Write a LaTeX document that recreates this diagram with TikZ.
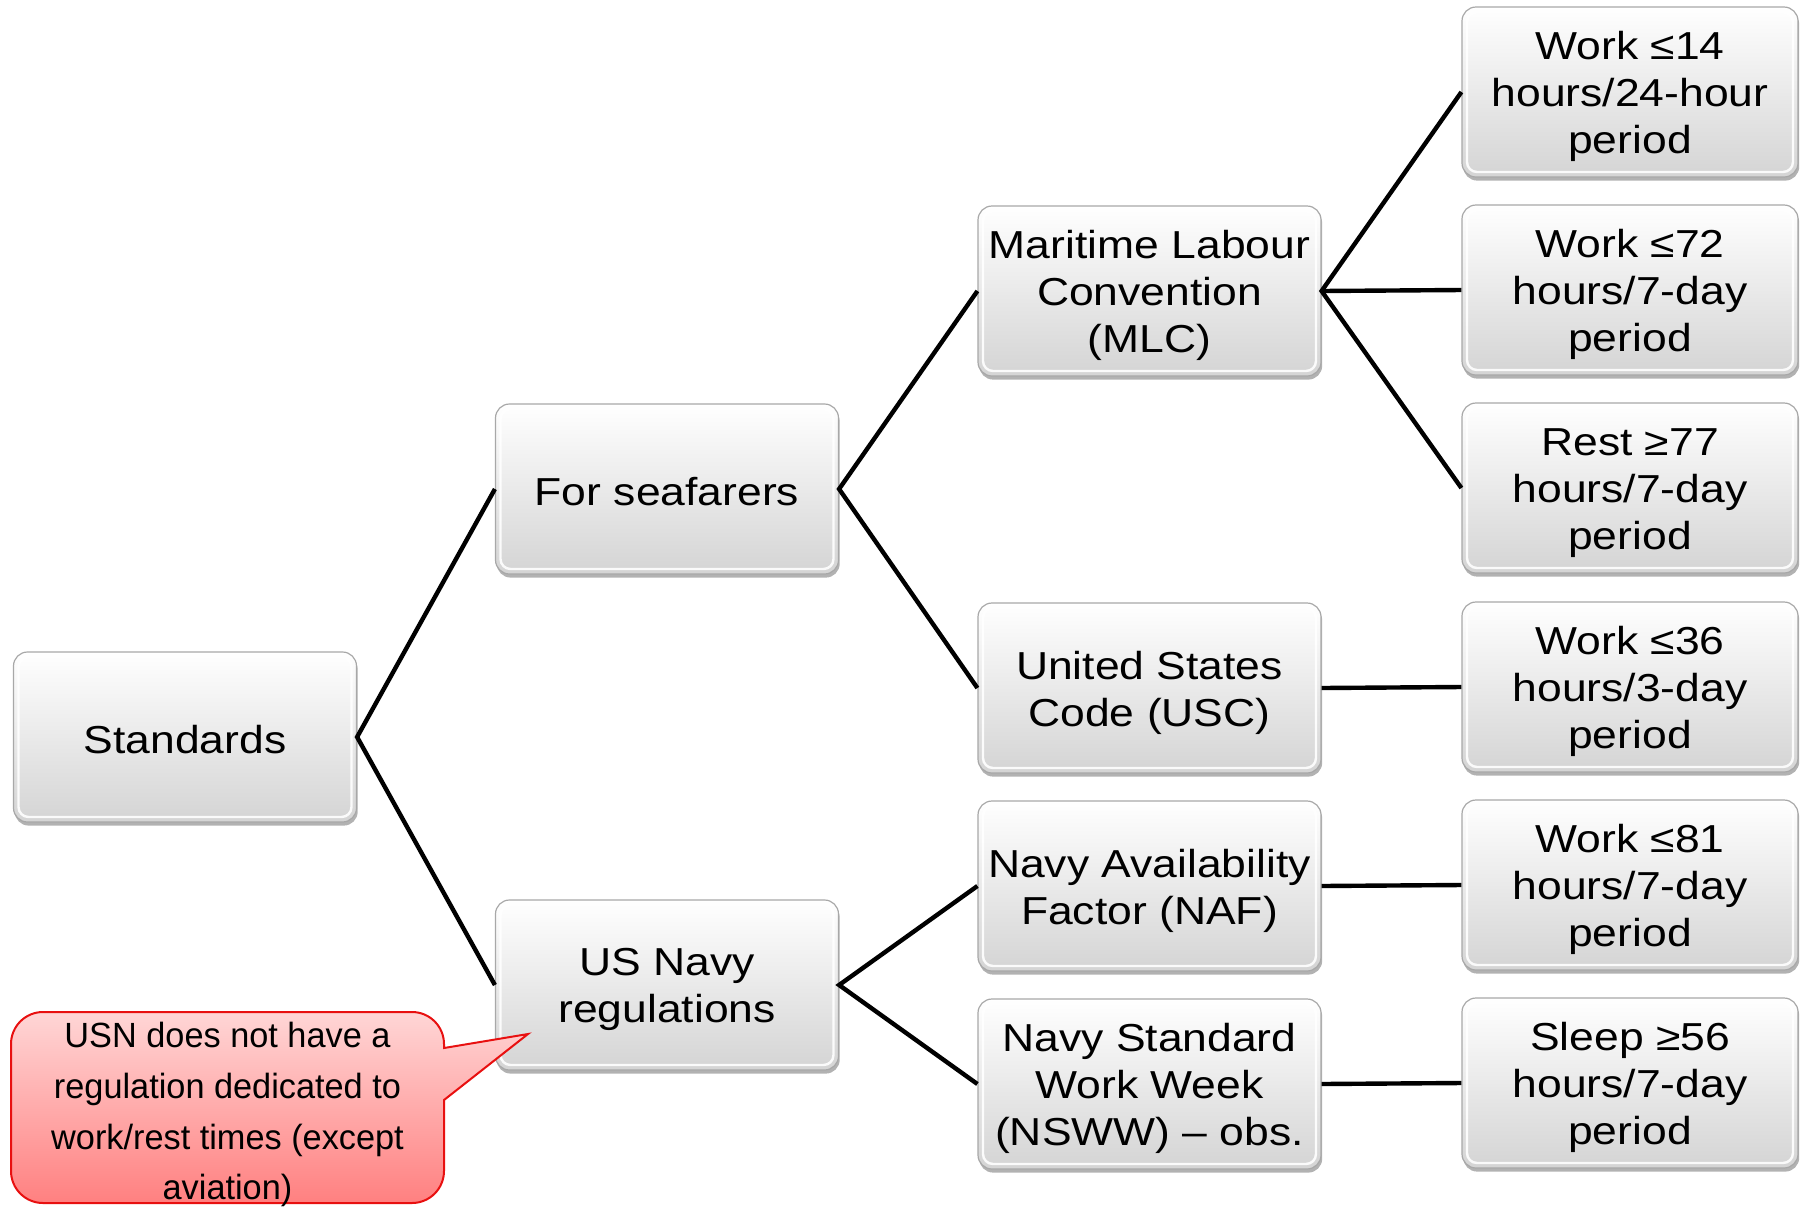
\documentclass[tikz,border=0pt]{standalone}
\usepackage{fontspec}
\setmainfont{Liberation Sans}
\newfontfamily\boxfont{Liberation Sans}[FakeStretch=1.14]
\newfontfamily\callfont{Liberation Sans}[FakeStretch=0.98]
\usetikzlibrary{shadows}
\definecolor{boxedge}{HTML}{A8A8A8}
\definecolor{boxbot}{HTML}{D4D4D4}
\definecolor{calltop}{HTML}{FFD6D6}
\definecolor{callbot}{HTML}{FF8080}
\definecolor{calledge}{HTML}{E81010}
\newcommand{\lnstrut}{\rule[-0.21em]{0pt}{1.27em}}
\newcommand{\topstrut}{\rule{0pt}{0.95em}}
\tikzset{
  stdbox/.style={rounded corners=7pt, draw=boxedge, line width=0.6pt,
    top color=white, bottom color=boxbot,
    minimum width=171.5pt, minimum height=85pt, inner sep=0pt,
    align=center, font=\boxfont\fontsize{19.5}{23.5}\selectfont,
    drop shadow={shadow xshift=0.6pt, shadow yshift=-1.8pt, opacity=0.3, fill=black},
    path picture={\draw[white, opacity=0.9, line width=1.2pt, rounded corners=5pt]
      ([shift={(2.5pt,-2.5pt)}]path picture bounding box.north west) rectangle
      ([shift={(-2.5pt,2.5pt)}]path picture bounding box.south east);}},
  rightbox/.style={stdbox, minimum width=168pt},
  link/.style={line width=2.2pt, black},
  callshape/.style={draw=calledge, line width=1pt, top color=calltop, bottom color=callbot},
  calltext/.style={align=center, inner sep=0pt, font=\callfont\fontsize{17.5}{25.3}\selectfont}
}
\begin{document}
\begin{tikzpicture}[x=0.5pt, y=-0.5pt]
\useasboundingbox (0,0) rectangle (1800,1206);
% column 1
\node[stdbox] (std) at (185,737) {\lnstrut Standards};
% column 2
\node[stdbox] (sea) at (667,489) {\lnstrut For seafarers};
\node[stdbox] (usn) at (667,985) {\topstrut US Navy\\regulations};
% column 3
\node[stdbox] (mlc) at (1149.5,291) {\topstrut Maritime Labour\\Convention\\(MLC)};
\node[stdbox] (usc) at (1149.5,688) {\topstrut United States\\Code (USC)};
\node[stdbox] (naf) at (1149.5,886) {\topstrut Navy Availability\\Factor (NAF)};
\node[stdbox] (nsww) at (1149.5,1084) {\topstrut Navy Standard\\Work Week\\(NSWW) – obs.};
% column 4
\node[rightbox] (r1) at (1630,92) {\topstrut Work ≤14\\hours/24-hour\\period};
\node[rightbox] (r2) at (1630,290) {\topstrut Work ≤72\\hours/7-day\\period};
\node[rightbox] (r3) at (1630,488) {\topstrut Rest ≥77\\hours/7-day\\period};
\node[rightbox] (r4) at (1630,687) {\topstrut Work ≤36\\hours/3-day\\period};
\node[rightbox] (r5) at (1630,885) {\topstrut Work ≤81\\hours/7-day\\period};
\node[rightbox] (r6) at (1630,1083) {\topstrut Sleep ≥56\\hours/7-day\\period};
% connectors
\draw[link] (sea.west) -- (std.east) -- (usn.west);
\draw[link] (mlc.west) -- (sea.east) -- (usc.west);
\draw[link] (r1.west) -- (mlc.east) -- (r3.west);
\draw[link] (mlc.east) -- (r2.west);
\draw[link] (usc.east) -- (r4.west);
\draw[link] (naf.west) -- (usn.east) -- (nsww.west);
\draw[link] (naf.east) -- (r5.west);
\draw[link] (nsww.east) -- (r6.west);
% callout
\path[callshape] (43,1012) -- (412,1012) arc[start angle=-90, end angle=0, radius=32]
  -- (444,1048) -- (528,1034) -- (444,1100) -- (444,1171)
  arc[start angle=0, end angle=90, radius=32] -- (43,1203)
  arc[start angle=90, end angle=180, radius=32] -- (11,1044)
  arc[start angle=180, end angle=270, radius=32] -- cycle;
\node[calltext] (note) at (227.5,1109) {\lnstrut USN does not have a\\regulation dedicated to\\work/rest times (except\\aviation\lnstrut)};
\end{tikzpicture}
\end{document}
